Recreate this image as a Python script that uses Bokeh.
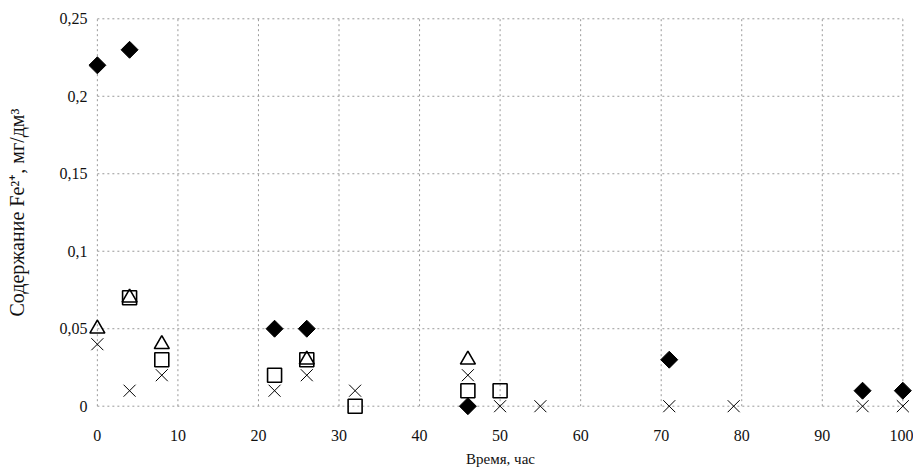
import numpy as np
from bokeh.plotting import figure
from bokeh.embed import file_html
from bokeh.resources import INLINE
from bokeh.models import FixedTicker

# Data
dia_x = [0, 4, 22, 26, 46, 71, 95, 100]
dia_y = [0.22, 0.23, 0.05, 0.05, 0.0, 0.03, 0.01, 0.01]
sq_x = [4, 8, 22, 26, 32, 46, 50]
sq_y = [0.07, 0.03, 0.02, 0.03, 0.0, 0.01, 0.01]
tri_x = [0, 4, 8, 26, 46]
tri_y = [0.05, 0.07, 0.04, 0.03, 0.03]
x_x = [0, 4, 8, 22, 26, 32, 46, 50, 55, 71, 79, 95, 100]
x_y = [0.04, 0.01, 0.02, 0.01, 0.02, 0.01, 0.02, 0.0, 0.0, 0.0, 0.0, 0.0, 0.0]

x_ticks = [0, 10, 20, 30, 40, 50, 60, 70, 80, 90, 100]
y_ticks = [0, 0.05, 0.1, 0.15, 0.2, 0.25]
y_tick_labels = ["0", "0,05", "0,1", "0,15", "0,2", "0,25"]
x_title = "Время, час"
y_title = "Содержание Fe²⁺, мг/дм³"

FONT = "Liberation Serif"
X0, X1 = x_ticks[0], x_ticks[-1]
Y0, Y1 = y_ticks[0], y_ticks[-1]

p = figure(width=913, height=472, output_backend="svg", toolbar_location=None,
           x_range=(-1.1, 101.2), y_range=(-0.006, 0.256),
           min_border_left=88, min_border_top=9, min_border_right=1, min_border_bottom=57)
p.outline_line_color = None
p.background_fill_color = "white"
p.border_fill_color = "white"
p.xgrid.visible = False
p.ygrid.visible = False

for ax in (p.xaxis[0], p.yaxis[0]):
    ax.axis_line_color = None
    ax.major_tick_line_color = None
    ax.minor_tick_line_color = None
    ax.major_tick_out = 0
    ax.major_tick_in = 0
    ax.minor_tick_out = 0
    ax.major_label_text_font = FONT
    ax.major_label_text_font_size = "16px"
    ax.major_label_text_color = "#111111"
    ax.axis_label_text_font = FONT
    ax.axis_label_text_font_style = "normal"
    ax.axis_label_text_color = "#111111"

p.xaxis.axis_label_text_font_size = "15px"
p.yaxis.axis_label_text_font_size = "20px"
p.xaxis.ticker = FixedTicker(ticks=x_ticks)
p.yaxis.ticker = FixedTicker(ticks=y_ticks)
p.yaxis.major_label_overrides = {t: l for t, l in zip(y_ticks, y_tick_labels)}
p.xaxis.axis_label = x_title
p.yaxis.axis_label = y_title
p.xaxis.major_label_standoff = 14
p.xaxis.axis_label_standoff = 7
p.yaxis.major_label_standoff = 1
p.yaxis.axis_label_standoff = 29

# dotted grid limited to the data box
p.multi_line(xs=[[X0, X1] for _ in y_ticks], ys=[[t, t] for t in y_ticks],
             line_color="#999999", line_dash="2 3", line_width=1)
p.multi_line(xs=[[t, t] for t in x_ticks], ys=[[Y0, Y1] for _ in x_ticks],
             line_color="#999999", line_dash="2 3", line_width=1)

p.scatter(x_x, x_y, marker="x", size=17, line_color="black", line_width=1)
p.scatter(sq_x, sq_y, marker="square", size=14, fill_color=None, line_color="black", line_width=1.6)
p.scatter(tri_x, tri_y, marker="triangle", size=15, fill_color=None, line_color="black", line_width=1.6)
p.scatter(dia_x, dia_y, marker="square", angle=np.pi / 4, size=12, fill_color="black", line_color="black")

open("out.html", "w").write(file_html(p, INLINE))
